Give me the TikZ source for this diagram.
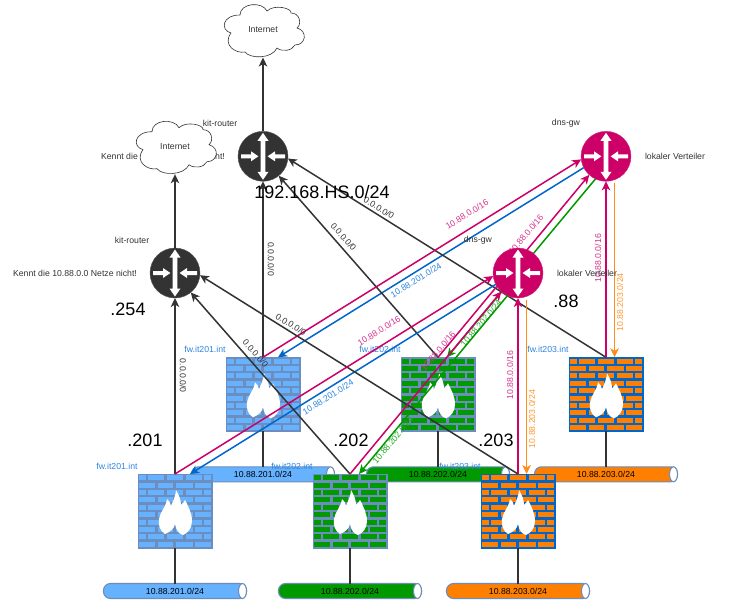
\documentclass[tikz,border=0pt]{standalone}
\usepackage{fontspec}
\setmainfont{Liberation Sans}
\usetikzlibrary{arrows.meta,shapes.geometric}
\definecolor{rosa}{HTML}{CC0066}
\definecolor{kobalt}{HTML}{0066CC}
\definecolor{gruen}{HTML}{009900}
\definecolor{orng}{HTML}{FF8000}
\definecolor{orngline}{HTML}{FF8C1A}
\definecolor{hell}{HTML}{66B2FF}
\definecolor{stahl}{HTML}{6C8EBF}
\definecolor{anthr}{HTML}{333333}
\definecolor{labrosa}{HTML}{D9338C}
\definecolor{labblau}{HTML}{2F86E0}
\definecolor{labgruen}{HTML}{22AA22}
\definecolor{laborng}{HTML}{FF9933}
\definecolor{labgrau}{HTML}{333333}
\tikzset{
  txt/.style={font=\fontsize{8.7}{10}\selectfont,text=labgrau,inner sep=0pt},
  bigtxt/.style={font=\fontsize{18}{20}\selectfont,text=black,inner sep=0pt},
  fwname/.style={txt,text=labblau},
  elab/.style={txt,text=#1},
  conn/.style={line width=1.5pt,draw=#1,-{Stealth[length=9pt,width=8.5pt,inset=2.5pt]}},
  wire/.style={line width=1.3pt,draw=anthr},
  routerbody/.style={circle,fill=#1,draw=#1!85!white,line width=.4pt,minimum size=50pt,inner sep=0pt,outer sep=0pt},
  fwbody/.style={rectangle,fill=#1,draw=#1,line width=.6pt,minimum size=74pt,inner sep=0pt,outer sep=0pt},
  pipebody/.style={rectangle,rounded corners=7pt,fill=#1,draw=stahl,line width=1.1pt,minimum width=143pt,minimum height=15pt,inner sep=0pt,outer sep=0pt,font=\fontsize{8.7}{10}\selectfont,text=black},
  cloudbody/.style={rectangle,minimum width=80pt,minimum height=55pt,inner sep=0pt,outer sep=0pt,font=\fontsize{8.7}{10}\selectfont,text=labgrau},
}
\newcommand\routerglyph[4]{%
  \node[routerbody=#4] (#1) at (#2,#3) {};
  \begin{scope}[shift={(#1.center)},draw=none]
    \fill[white] (0,-23.5) -- (5.5,-15.5) -- (2.3,-15.5) -- (2.3,15.5) -- (5.5,15.5) -- (0,23.5) -- (-5.5,15.5) -- (-2.3,15.5) -- (-2.3,-15.5) -- (-5.5,-15.5) -- cycle;
    \fill[white] (-22,-2) -- (-12,-2) -- (-12,-5) -- (-4.6,0) -- (-12,5) -- (-12,2) -- (-22,2) -- cycle;
    \fill[white] (22,-2) -- (12,-2) -- (12,-5) -- (4.6,0) -- (12,5) -- (12,2) -- (22,2) -- cycle;
  \end{scope}}
\newcommand\brickrow[3]{%
  \foreach \ax/\bx in {#3} {\fill[#2] (\ax,#1) rectangle (\bx,#1+5);}}
\newcommand\firewallglyph[5]{%
  \node[fwbody=#5] (#1) at (#2,#3) {};
  \begin{scope}[shift={(#1.north west)}]
    \foreach \ya in {1.2,16,30.8,45.6,60.4} {\brickrow{\ya}{#4}{1.2/7.7,10.3/26.3,28.7/45.3,47.7/63.7,66/72.8}}
    \foreach \yb in {8.6,23.4,38.2,53,67.8} {\brickrow{\yb}{#4}{1.2/17,19.7/35.3,38/54.7,57/72.8}}
    \fill[white] (27,60) .. controls (22,57) and (20,51) .. (21,45) .. controls (22,38) and (28,33) .. (29,25) .. controls (31,27) and (33,29) .. (33,32) .. controls (35,27) and (38,21) .. (38,16) .. controls (41,21) and (43,26) .. (43,31) .. controls (45,29) and (46,28) .. (47,26) .. controls (50,32) and (54,39) .. (54,47) .. controls (54,54) and (50,59) .. (45,61) .. controls (41,60) and (38,56) .. (37,50) .. controls (36,55) and (32,58) .. (27,60) -- cycle;
  \end{scope}}
\newcommand\pipeglyph[5]{%
  \node[pipebody=#4] (#1) at (#2,#3) {#5};
  \node[ellipse,draw=stahl,fill=white,line width=1.1pt,minimum width=8pt,minimum height=15pt,inner sep=0pt,outer sep=0pt] (#1e) at ([xshift=-4]#1.east) {};}
\newcommand\cloudglyph[4]{%
  \fill[white,draw=labgrau,line width=.6pt,shift={(#2+1,#3)}] (-33,3) .. controls (-44,0) and (-42,-15) .. (-24,-15) .. controls (-24,-27) and (-2,-29) .. (3,-19) .. controls (10,-26) and (28,-22) .. (27,-17) .. controls (36,-17) and (38,-6) .. (33,-2) .. controls (44,1) and (42,15) .. (31,15) .. controls (28,21) and (18,22) .. (13,18) .. controls (8,29) and (-14,29) .. (-19,22) .. controls (-28,24) and (-42,15) .. (-33,3) -- cycle;
  \node[cloudbody] (#1) at (#2,#3) {#4};}
\newcommand\netlayer[3]{%
\begin{scope}[shift={(#1,#2)},name prefix=#3-]
  \pipeglyph{pa}{175}{591}{hell}{10.88.201.0/24}
  \pipeglyph{pb}{350}{591}{gruen}{10.88.202.0/24}
  \pipeglyph{pc}{518}{591}{orng}{10.88.203.0/24}
  \firewallglyph{fa}{175}{511}{hell}{stahl}
  \firewallglyph{fb}{350}{511}{gruen}{stahl}
  \firewallglyph{fc}{518}{511}{orng}{kobalt}
  \cloudglyph{cl}{175}{146.7}{Internet}
  \draw[wire] (fa.south) -- (pa.north);
  \draw[wire] (fb.south) -- (pb.north);
  \draw[wire] (fc.south) -- (pc.north);
  \node[elab=labrosa,rotate=32] (l1) at (379,331) {10.88.0.0/16};
  \node[elab=labblau,rotate=32] (l2) at (328,397) {10.88.201.0/24};
  \node[elab=labrosa,rotate=50] (l3) at (438,351) {10.88.0.0/16};
  \node[elab=labgruen,rotate=50] (l4) at (393,440) {10.88.202.0/24};
  \node[elab=labrosa,rotate=90] (l5) at (510,375) {10.88.0.0/16};
  \node[elab=laborng,rotate=90] (l6) at (532,419) {10.88.203.0/24};
  \node[txt,rotate=-90] (l7) at (183,375.7) {0.0.0.0/0};
  \node[txt,rotate=-49] (l8) at (255.5,353.5) {0.0.0.0/0};
  \node[txt,rotate=-32] (l9) at (291,324.5) {0.0.0.0/0};
  \node[fwname] (na) at (117,466) {fw.it201.int};
  \node[fwname] (nb) at (292,466) {fw.it202.int};
  \node[fwname] (nc) at (460,466) {fw.it203.int};
  \node[txt] (tk) at (132,240) {kit-router};
  \node[txt] (tv) at (75,273) {Kennt die 10.88.0.0 Netze nicht!};
  \node[txt] (td) at (478,240) {dns-gw};
  \node[txt] (tl) at (587,273) {lokaler Verteiler};
  \routerglyph{kit}{175}{273}{anthr}
  \routerglyph{dns}{518}{273}{rosa}
  \draw[conn=kobalt] (dns.207) -- ([xshift=15]fa.north);
  \draw[conn=gruen] (dns.245) -- ([xshift=9]fb.north);
  \draw[conn=orngline] ([xshift=8.6,yshift=-1.5]dns.south) -- ([xshift=8.6]fc.north);
  \draw[conn=anthr] (kit.north) -- (cl.south);
  \draw[conn=anthr] (fa.north) -- (kit.south);
  \draw[conn=anthr] (fb.north) -- (kit.-51);
  \draw[conn=anthr] (fc.north) -- (kit.-5);
  \draw[conn=rosa] (fa.north) -- (dns.187);
  \draw[conn=rosa] (fb.north) -- (dns.228);
  \draw[conn=rosa] (fc.north) -- (dns.south);
\end{scope}}
\begin{document}
\begin{tikzpicture}[x=1pt,y=-1pt]
\useasboundingbox (0,0) rectangle (737,600);
\fill[white] (0,0) rectangle (737,600);
\netlayer{88}{-116.7}{up}
\netlayer{0}{0}{lo}
\node[bigtxt] (big) at (322,192) {192.168.HS.0/24};
\node[bigtxt] (d254) at (128,309) {.254};
\node[bigtxt] (d201) at (145,440) {.201};
\node[bigtxt] (d202) at (351,440) {.202};
\node[bigtxt] (d203) at (496,440) {.203};
\node[bigtxt] (d88) at (566,301) {.88};
\end{tikzpicture}
\end{document}
